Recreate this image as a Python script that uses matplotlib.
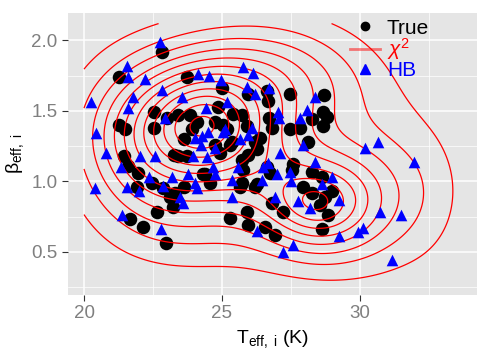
import matplotlib
matplotlib.use("Agg")
import matplotlib.pyplot as plt
import numpy as np
from matplotlib.lines import Line2D

plt.rcParams['font.family'] = ['Liberation Sans', 'DejaVu Sans']
plt.rcParams['mathtext.fontset'] = 'custom'
plt.rcParams['mathtext.rm'] = 'Liberation Sans'
plt.rcParams['mathtext.it'] = 'Liberation Sans:italic'

# true values (black circles)
true_teff = [22.82, 21.26, 23.72, 24.99, 25.93, 26.62, 26.66, 27.45, 28.68,
             22.53, 22.53, 23.00, 21.26, 21.47, 23.39, 23.83, 23.90, 24.84, 24.74,
             25.17, 25.39, 25.71, 25.89, 26.69, 26.80, 26.37, 23.61, 25.28,
             28.65, 28.79, 28.25, 27.81, 27.45, 28.65, 28.10,
             21.44, 21.58, 21.95, 22.45, 21.91, 22.85, 23.29, 23.21, 22.63, 21.66,
             22.13, 22.96, 23.39, 23.61,
             24.92, 25.93, 26.26, 23.72, 24.30, 24.55, 25.64, 26.18, 26.80, 27.20,
             25.28, 25.89, 25.93, 26.55, 26.91, 26.73,
             27.56, 27.52, 28.25, 28.61, 27.92, 28.25, 28.97, 28.72, 28.54, 28.83, 28.61,
             24.09, 24.74, 25.35, 23.25, 25.71, 26.18, 24.37, 25.75, 25.71, 26.26,
             23.10, 26.62, 25.03]
true_beta = [1.92, 1.74, 1.74, 1.66, 1.62, 1.64, 1.57, 1.62, 1.61,
             1.49, 1.38, 1.45, 1.40, 1.37, 1.47, 1.47, 1.37, 1.53, 1.42,
             1.37, 1.48, 1.47, 1.39, 1.45, 1.38, 1.31, 1.30, 1.26,
             1.49, 1.46, 1.44, 1.38, 1.37, 1.39, 1.28,
             1.18, 1.11, 1.06, 0.99, 0.96, 0.95, 0.92, 0.82, 0.78, 0.73,
             0.68, 0.56, 1.18, 0.96,
             1.20, 1.19, 1.23, 1.18, 1.05, 0.99, 0.96, 0.96, 0.85, 0.78,
             0.74, 0.78, 0.69, 0.68, 0.62, 1.06,
             1.12, 1.08, 1.07, 1.03, 0.96, 0.92, 0.93, 0.89, 0.83, 0.76, 0.66,
             1.42, 1.26, 1.28, 1.19, 1.15, 1.28, 1.05, 1.08, 0.99, 0.98,
             0.89, 1.10, 1.40]

# hierarchical Bayes estimates (blue triangles)
hb_teff = [22.74, 21.55, 21.58, 22.20, 21.76, 22.82, 21.58, 20.24, 20.42, 20.79,
           23.54, 22.92, 24.12, 24.52, 24.95, 25.75, 26.11, 25.89, 26.18, 26.69,
           27.02, 27.05, 24.41, 25.17, 25.10, 24.48, 24.26, 24.01, 24.23, 24.74,
           25.03, 26.08, 25.93, 25.64, 27.09, 28.36, 28.07, 27.81, 27.92, 30.17,
           30.64, 22.02, 22.56, 21.33, 20.39, 21.55, 21.98, 22.34, 23.18, 22.85,
           23.47, 23.58, 21.37, 22.78, 23.94, 24.45, 24.66, 23.76, 24.74, 25.35,
           24.01, 24.08, 25.35, 25.57, 26.48, 26.66, 26.98, 26.44, 26.91, 26.26,
           27.20, 28.36, 27.45, 27.49, 28.97, 28.61, 27.74, 28.18, 29.23, 30.71,
           30.10, 29.92, 29.23, 27.56, 31.15, 31.94, 31.47]
hb_beta = [1.99, 1.82, 1.74, 1.73, 1.60, 1.65, 1.52, 1.56, 1.34, 1.20,
           1.60, 1.45, 1.76, 1.75, 1.72, 1.81, 1.77, 1.67, 1.62, 1.66,
           1.49, 1.45, 1.52, 1.56, 1.37, 1.35, 1.32, 1.31, 1.26, 1.24,
           1.35, 1.38, 1.33, 1.30, 1.20, 1.60, 1.51, 1.45, 1.26, 1.24,
           1.28, 1.18, 1.18, 1.10, 0.95, 0.96, 0.93, 1.03, 1.03, 0.97,
           0.89, 0.85, 0.76, 0.66, 1.18, 1.17, 1.10, 1.05, 1.05, 1.01,
           0.99, 0.95, 0.89, 1.10, 1.10, 1.13, 1.05, 1.01, 0.89, 0.65,
           0.50, 1.14, 1.07, 1.00, 1.03, 0.98, 0.86, 0.81, 0.87, 0.78,
           0.67, 0.64, 0.61, 0.55, 0.44, 1.14, 0.76]

# chi^2 contours: points, with the index of the contour
# they sit on (1 = outermost)
chi2_t = [24.35, 23.93, 24.80, 24.35, 24.35,
          24.35, 24.35, 24.35, 24.35, 24.35, 24.35, 24.35, 24.35, 24.35, 24.35, 24.35,
          23.53, 23.10, 22.74, 22.27, 21.91, 21.47, 21.04, 20.64, 20.20,
          20.0, 20.0, 20.0, 20.0,
          21.55, 23.2, 25.65, 29.0, 30.47, 32.4, 32.6, 33.55, 32.4, 30.7, 27.45,
          25.3, 23.9, 21.9,
          28.3, 27.9, 28.8, 28.3, 28.3, 27.1, 29.5, 28.3, 28.3,
          29.8, 30.3, 30.96, 31.5, 32.2, 26.8,
          33.9, 33.9, 20.0, 31.0, 20.0]
chi2_b = [1.40, 1.40, 1.40, 1.465, 1.335,
          1.545, 1.616, 1.673, 1.73, 1.78, 1.84, 1.90, 1.96, 2.01, 2.06, 2.09,
          1.40, 1.40, 1.40, 1.40, 1.40, 1.40, 1.40, 1.40, 1.40,
          0.71, 1.82, 0.89, 1.47,
          1.97, 2.08, 2.05, 1.89, 1.67, 1.53, 1.35, 0.87, 0.61, 0.43, 0.39,
          0.28, 0.39, 0.51,
          0.84, 0.84, 0.84, 0.88, 0.795, 0.85, 0.85, 0.96, 0.71,
          0.84, 0.84, 0.84, 0.84, 0.84, 1.0,
          1.9, 0.3, 2.12, 2.12, 0.3]
chi2_lev = [12.6, 12, 12, 12, 12,
            11, 10, 9, 8, 7, 6, 5, 4, 3, 2, 1,
            11, 10, 9, 8, 7, 6, 5, 4, 3,
            1, 1, 2, 2,
            1, 1, 1, 1, 1, 1, 1, 1, 1, 1, 1,
            1.15, 1, 1,
            8.4, 8, 8, 8, 8, 7, 7, 7, 7,
            6, 5, 4, 3, 2, 6.5,
            0.2, 0.2, 0.5, 0.4, 0.3]
n_levels = 12

# smooth bumps used to rebuild the surface through those points
bump_t = [24.35, 24.0, 21.5, 23.5, 26.3, 28.3, 28.5, 30.8, 26.5, 26.5, 32.5]
bump_b = [1.40, 1.35, 1.25, 0.80, 1.05, 0.84, 0.85, 0.95, 1.70, 0.50, 0.90]
bump_st = [1.0, 2.0, 1.5, 1.8, 1.3, 0.8, 1.5, 1.8, 2.5, 2.5, 1.0]
bump_sb = [0.18, 0.32, 0.40, 0.28, 0.28, 0.11, 0.25, 0.40, 0.30, 0.20, 0.35]


def bumps(t, b):
    t = np.asarray(t, float)[..., None]
    b = np.asarray(b, float)[..., None]
    return np.exp(-0.5 * (((t - np.array(bump_t)) / np.array(bump_st)) ** 2 +
                          ((b - np.array(bump_b)) / np.array(bump_sb)) ** 2))


# non-negative least squares (accelerated projected gradient)
M = bumps(chi2_t, chi2_b)
y = np.array(chi2_lev, float)
eta = 1.0 / np.linalg.norm(M, 2) ** 2
amp = np.zeros(M.shape[1])
z = amp.copy()
tk = 1.0
for _ in range(20000):
    new = np.maximum(0.0, z - eta * (M.T @ (M @ z - y)))
    tn = (1 + np.sqrt(1 + 4 * tk * tk)) / 2
    z = new + (tk - 1) / tn * (new - amp)
    amp, tk = new, tn

fig = plt.figure(figsize=(4.91, 3.5), dpi=100)
ax = fig.add_axes([68 / 491, 55 / 350, 409 / 491, 282 / 350])
ax.set_facecolor('#E5E5E5')

tt, bb = np.meshgrid(np.linspace(20.0, 34.0, 300), np.linspace(0.28, 2.12, 300))
dens = bumps(tt, bb) @ amp

ax.scatter(true_teff, true_beta, s=95, c='black', linewidths=0, zorder=2)
ax.contour(tt, bb, dens, levels=np.arange(1, n_levels + 1), colors='red',
           linewidths=0.9, zorder=3)
ax.scatter(hb_teff, hb_beta, s=70, marker='^', c='blue', linewidths=0, zorder=4)

ax.set_xlim(19.42, 34.24)
ax.set_ylim(0.194, 2.195)
ax.set_xticks([20, 25, 30])
ax.set_yticks([0.5, 1.0, 1.5, 2.0])
ax.set_yticklabels(['0.5', '1.0', '1.5', '2.0'])
ax.set_xticks([22.5, 27.5, 32.5], minor=True)
ax.set_yticks([0.25, 0.75, 1.25, 1.75], minor=True)
ax.grid(which='major', color='white', lw=1.1)
ax.grid(which='minor', color='white', lw=0.5)
ax.set_axisbelow(True)
for s in ax.spines.values():
    s.set_visible(False)
ax.tick_params(which='major', length=4, color='#333333', labelsize=13.5, labelcolor='#7F7F7F')
ax.tick_params(which='minor', length=0)

ax.set_xlabel(r'$\mathregular{T_{eff,\ i}}$ (K)', fontsize=14)
ax.set_ylabel(r'$\mathregular{β_{eff,\ i}}$', fontsize=14)

handles = [Line2D([], [], marker='o', ls='', color='black', markersize=6),
           Line2D([], [], color='red', alpha=0.5, lw=2),
           Line2D([], [], marker='^', ls='', color='blue', markersize=7)]
ax.legend(handles, ['True', r'$\chi^2$', 'HB'], labelcolor=['black', 'red', 'blue'],
          frameon=False, fontsize=15, loc='upper left', bbox_to_anchor=(0.67, 1.01),
          handlelength=1.4, handletextpad=0.35, labelspacing=-0.05, borderaxespad=0)

fig.savefig('out.png', dpi=100)
